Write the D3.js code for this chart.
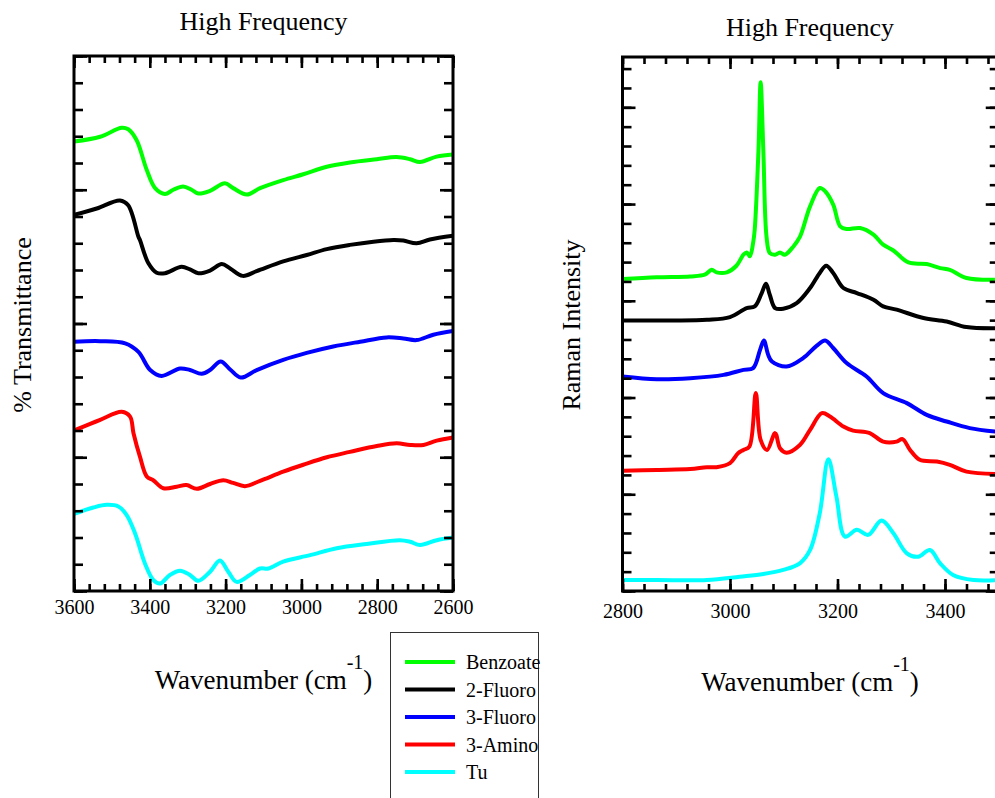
<!DOCTYPE html>
<html>
<head>
<meta charset="utf-8">
<script src="https://cdn.jsdelivr.net/npm/d3@7"></script>
<style>
body { margin: 0; background: #fff; }
svg text { font-family: "Liberation Serif", "Times New Roman", serif; fill: #000; }
</style>
</head>
<body>
<div id="chart"></div>
<script>
//Series names and colours, in legend order
var seriesNames = ["Benzoate", "2-Fluoro", "3-Fluoro", "3-Amino", "Tu"];
var seriesColors = ["#00ff00", "#000000", "#0000ff", "#ff0000", "#00ffff"];

//IR spectra (left panel): [wavenumber, % transmittance, offset stacked]
var irBenzoate = [[3600,84.0],[3531,84.9],[3474,86.6],[3457,86.3],[3435,84.3],[3408,78.7],[3386,75.3],[3360,74.2],[3338,75.0],[3312,75.6],[3290,75.0],[3272,74.3],[3241,74.8],[3202,76.2],[3180,75.3],[3144,74.1],[3109,75.3],[3048,76.8],[2995,77.9],[2933,79.3],[2872,80.1],[2801,80.7],[2749,81.1],[2713,80.7],[2687,80.2],[2643,81.2],[2600,81.6]];
var ir2Fluoro = [[3600,70.3],[3540,71.5],[3479,73.0],[3457,72.1],[3430,66.2],[3426,65.6],[3404,61.3],[3382,59.5],[3360,59.4],[3316,60.6],[3294,60.1],[3272,59.4],[3241,59.9],[3210,61.1],[3188,60.3],[3155,58.9],[3118,59.8],[3048,61.6],[2986,62.8],[2933,63.9],[2872,64.7],[2810,65.3],[2757,65.6],[2731,65.5],[2696,65.0],[2661,65.7],[2600,66.4]];
var ir3Fluoro = [[3600,46.6],[3531,46.7],[3465,46.3],[3430,44.7],[3399,41.3],[3369,40.2],[3320,41.6],[3294,41.3],[3263,40.6],[3241,41.3],[3213,42.9],[3188,41.4],[3160,39.9],[3118,41.3],[3048,43.2],[2986,44.5],[2916,45.7],[2845,46.6],[2775,47.4],[2731,47.2],[2696,46.9],[2652,47.9],[2600,48.6]];
var ir3Amino = [[3600,30.0],[3531,32.0],[3474,33.5],[3452,32.6],[3443,29.5],[3426,25.1],[3408,21.4],[3391,20.7],[3364,19.2],[3329,19.5],[3303,19.8],[3276,19.1],[3241,20.0],[3206,20.7],[3180,20.2],[3149,19.6],[3109,20.6],[3048,22.3],[2995,23.6],[2933,25.0],[2872,26.0],[2801,27.1],[2749,27.6],[2713,27.3],[2678,27.3],[2643,28.1],[2600,28.7]];
var irTu = [[3600,14.4],[3549,15.6],[3514,16.1],[3483,15.8],[3461,14.2],[3439,10.8],[3413,5.2],[3391,2.1],[3373,1.4],[3347,3.0],[3320,3.8],[3294,3.0],[3272,1.9],[3241,3.6],[3215,5.7],[3193,3.6],[3171,1.7],[3136,3.0],[3109,4.2],[3087,4.2],[3048,5.5],[2977,6.7],[2907,8.0],[2828,8.8],[2740,9.5],[2713,9.2],[2687,8.6],[2643,9.5],[2600,10.0]];

//Raman spectra (right panel): [wavenumber, intensity, offset stacked]
var ramanBenzoate = [[2800,16.12],[2864,16.21],[2926,16.26],[2953,16.35],[2966,16.6],[2975,16.47],[2994,16.47],[3012,16.81],[3025,17.38],[3031,17.5],[3037,17.3],[3043,17.99],[3046,18.68],[3053,22.8],[3057,26.3],[3062,22.8],[3068,18.3],[3074,17.47],[3084,17.38],[3093,17.5],[3102,17.38],[3118,17.81],[3130,18.3],[3149,19.88],[3167,20.83],[3177,20.66],[3192,19.97],[3205,18.85],[3217,18.71],[3242,18.76],[3267,18.42],[3285,17.9],[3304,17.6],[3332,16.98],[3366,16.9],[3391,16.69],[3409,16.6],[3440,16.18],[3500,16.09]];
var raman2Fluoro = [[2800,13.98],[2895,13.98],[2957,14.02],[3000,14.16],[3031,14.62],[3046,14.71],[3059,15.4],[3067,15.88],[3074,15.31],[3084,14.62],[3099,14.59],[3124,14.88],[3149,15.66],[3167,16.44],[3179,16.81],[3192,16.44],[3211,15.66],[3236,15.4],[3267,15.05],[3285,14.71],[3310,14.54],[3360,14.11],[3403,13.93],[3440,13.64],[3500,13.58]];
var raman3Fluoro = [[2800,11.09],[2864,10.95],[2926,11.0],[2988,11.17],[3025,11.43],[3043,11.52],[3056,12.47],[3063,12.95],[3071,12.21],[3078,11.86],[3105,11.6],[3136,12.04],[3161,12.67],[3177,12.95],[3192,12.56],[3217,11.78],[3254,11.09],[3285,10.23],[3329,9.71],[3366,9.1],[3403,8.76],[3446,8.42],[3500,8.22]];
var raman3Amino = [[2800,6.22],[2864,6.26],[2926,6.3],[2957,6.4],[2975,6.4],[3000,6.61],[3015,7.12],[3025,7.29],[3036,7.46],[3048,10.23],[3057,7.81],[3069,7.29],[3084,8.16],[3093,7.38],[3105,7.15],[3130,7.55],[3149,8.33],[3171,9.19],[3186,9.02],[3211,8.5],[3229,8.29],[3260,8.16],[3285,7.72],[3310,7.72],[3321,7.85],[3335,7.29],[3353,6.78],[3385,6.69],[3409,6.52],[3440,6.17],[3500,6.05]];
var ramanTu = [[2800,0.57],[2864,0.57],[2957,0.57],[3018,0.74],[3062,0.88],[3099,1.09],[3130,1.43],[3149,2.12],[3167,4.02],[3183,6.81],[3198,4.88],[3214,2.81],[3236,3.16],[3257,2.9],[3282,3.64],[3304,2.98],[3329,1.95],[3350,1.77],[3372,2.12],[3391,1.43],[3415,0.83],[3453,0.57],[3500,0.57]];

//Axis ranges and tick steps
var irXDomain = [3600, 2600];
var irYDomain = [0, 100];
var ramanXDomain = [2800, 3500];
var ramanYDomain = [0, 27.6];
var irXTicks = d3.range(2600, 3601, 40);
var irXMajor = d3.range(2600, 3601, 200);
var irYTicks = d3.range(0, 101, 5);
var irYMajor = d3.range(0, 101, 25);
var ramanXTicks = d3.range(2800, 3501, 40);
var ramanXMajor = d3.range(2800, 3501, 200);
var ramanYTicks = d3.range(0, 28, 1);
var ramanYMajor = d3.range(0, 28, 5);

var irData = [irBenzoate, ir2Fluoro, ir3Fluoro, ir3Amino, irTu];
var ramanData = [ramanBenzoate, raman2Fluoro, raman3Fluoro, raman3Amino, ramanTu];

var serif = "Liberation Serif, Times New Roman, serif";

var svg = d3.select("#chart").append("svg").attr("width", 995).attr("height", 798)
    .attr("font-family", serif);

//Draws one framed panel with inward ticks on all four sides
var drawPanel = function(id, box, xDomain, yDomain, xTicks, xMajor, yTicks, yMajor, data, labelPad)
{
    let x = d3.scaleLinear().domain(xDomain).range([box.left, box.right]);
    let y = d3.scaleLinear().domain(yDomain).range([box.bottom, box.top]);

    let g = svg.append("g").attr("id", id);

    //clip the curves to the frame
    svg.append("clipPath").attr("id", id + "-clip").append("rect")
        .attr("x", box.left).attr("y", box.top)
        .attr("width", box.right - box.left).attr("height", box.bottom - box.top);

    let line = d3.line().x(d => x(d[0])).y(d => y(d[1])).curve(d3.curveCatmullRom.alpha(0.5));

    g.append("g").attr("clip-path", "url(#" + id + "-clip)")
        .selectAll("path").data(data).enter().append("path")
        .attr("d", line)
        .attr("fill", "none")
        .attr("stroke", (d, i) => seriesColors[i])
        .attr("stroke-width", 4)
        .attr("stroke-linejoin", "round")
        .attr("stroke-linecap", "round");

    //minor and major ticks, all four sides
    let axes = [
        [d3.axisBottom(x), "translate(0," + box.bottom + ")", xTicks, xMajor, 7, 12],
        [d3.axisTop(x), "translate(0," + box.top + ")", xTicks, xMajor, 7, 12],
        [d3.axisLeft(y), "translate(" + box.left + ",0)", yTicks, yMajor, 9, 13],
        [d3.axisRight(y), "translate(" + box.right + ",0)", yTicks, yMajor, 9, 13]
    ];
    axes.forEach(function(a)
    {
        let minor = a[0].tickValues(a[2]).tickSize(-a[4]).tickFormat("");
        g.append("g").attr("transform", a[1]).call(minor);
        let major = a[0].tickValues(a[3]).tickSize(-a[5]).tickFormat("");
        g.append("g").attr("transform", a[1]).call(major);
    });

    //tick labels only at the bottom
    g.append("g").attr("transform", "translate(0," + box.bottom + ")")
        .call(d3.axisBottom(x).tickValues(xMajor).tickSize(0).tickPadding(labelPad).tickFormat(d3.format("d")))
        .attr("font-family", serif).attr("font-size", 20)
        .call(s => s.select(".domain").remove());

    g.selectAll(".domain").remove();
    g.selectAll(".tick line").attr("stroke", "#000").attr("stroke-width", 2.6);

    g.append("rect")
        .attr("x", box.left).attr("y", box.top)
        .attr("width", box.right - box.left).attr("height", box.bottom - box.top)
        .attr("fill", "none").attr("stroke", "#000").attr("stroke-width", 3);

    return {x: x, y: y};
}

drawPanel("ir", {left: 74, right: 453, top: 56, bottom: 591}, irXDomain, irYDomain, irXTicks, irXMajor, irYTicks, irYMajor, irData, 9);
drawPanel("raman", {left: 622.5, right: 998.75, top: 57, bottom: 591}, ramanXDomain, ramanYDomain, ramanXTicks, ramanXMajor, ramanYTicks, ramanYMajor, ramanData, 13);

//Titles and axis labels
svg.append("text").attr("x", 263.5).attr("y", 30).attr("text-anchor", "middle").attr("font-size", 26).text("High Frequency");
svg.append("text").attr("x", 810).attr("y", 36).attr("text-anchor", "middle").attr("font-size", 26).text("High Frequency");

var addWavenumber = function(cx, baseline)
{
    let t = svg.append("text").attr("x", cx).attr("y", baseline).attr("text-anchor", "middle").attr("font-size", 27);
    t.append("tspan").text("Wavenumber (cm");
    t.append("tspan").attr("dy", -20).attr("font-size", 20).text("-1");
    t.append("tspan").attr("dy", 20).text(")");
}
addWavenumber(263.5, 689);
addWavenumber(810, 691);

svg.append("text").attr("transform", "translate(31,325) rotate(-90)").attr("text-anchor", "middle").attr("font-size", 26).text("% Transmittance");
svg.append("text").attr("transform", "translate(580,325) rotate(-90)").attr("text-anchor", "middle").attr("font-size", 26).text("Raman Intensity");

//Legend box below the panels
var legend = svg.append("g").attr("id", "legend");
legend.append("rect").attr("x", 390.5).attr("y", 632.5).attr("width", 148).attr("height", 180)
    .attr("fill", "#fff").attr("stroke", "#333").attr("stroke-width", 1);

var legendY = d3.scalePoint().domain(seriesNames).range([662, 772]);
seriesNames.forEach(function(name, i)
{
    legend.append("line").attr("x1", 405).attr("x2", 455).attr("y1", legendY(name)).attr("y2", legendY(name))
        .attr("stroke", seriesColors[i]).attr("stroke-width", 4);
    legend.append("text").attr("x", 466).attr("y", legendY(name) + 7).attr("font-size", 20).text(name);
});
</script>
</body>
</html>
